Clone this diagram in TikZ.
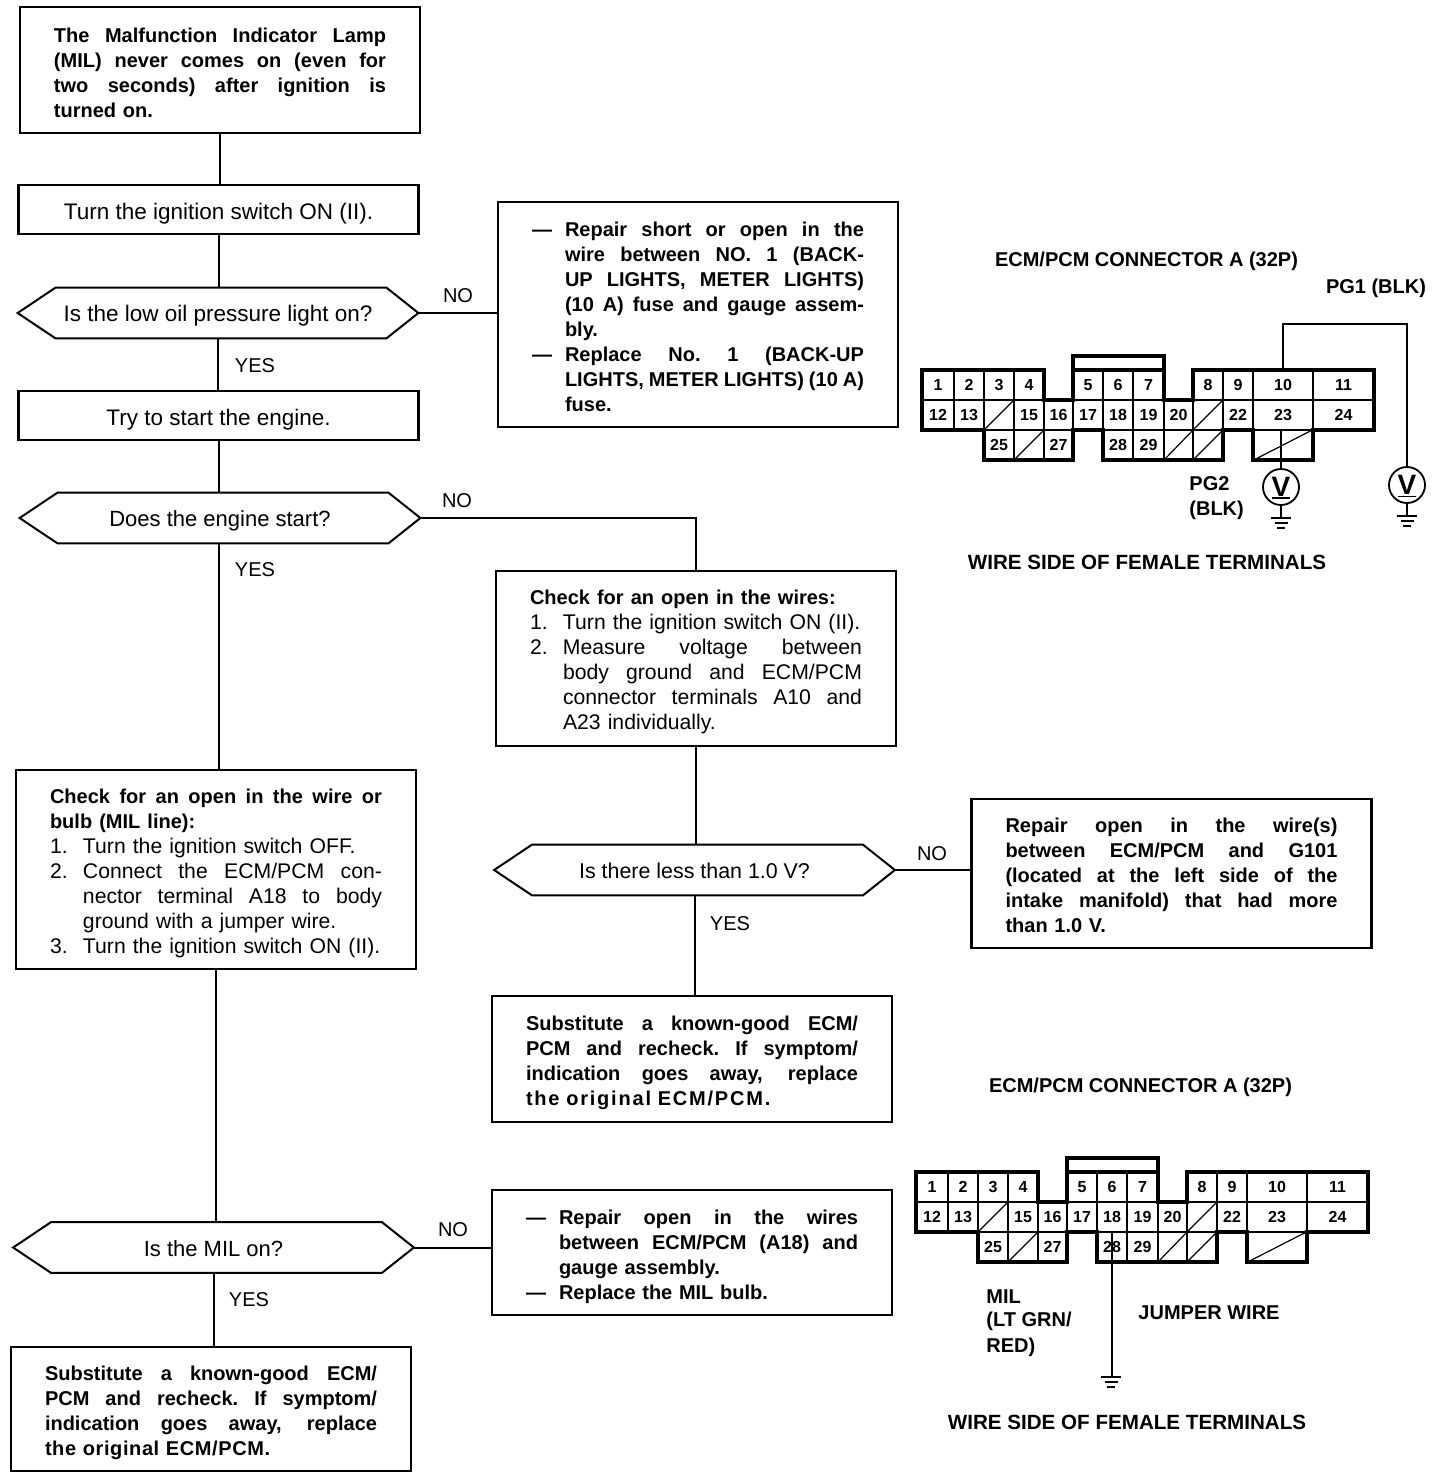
\documentclass[tikz,border=0pt]{standalone}
\usepackage{fontspec}
\setmainfont{Liberation Sans}
\usetikzlibrary{calc}
\newcommand\Sp{\spaceskip=.28em plus 1fil minus .1em\xspaceskip=\spaceskip}
\newcommand\Jl[1]{\hbox to 166pt{\Sp #1}}
\newcommand\Fl[1]{\hbox{#1}}
\newcommand\Ls[2]{\hbox{\addfontfeature{LetterSpace=#1}#2}}
\newcommand\Dj[2]{\hbox to 166pt{\Sp\hbox to 16.5pt{#1\hss}#2}}
\newcommand\Df[2]{\hbox{\hbox to 16.5pt{#1\hss}#2}}
\newcommand\Hj[1]{\hbox to 166pt{\Sp\hskip16.5pt #1}}
\newcommand\Hf[1]{\hbox{\hskip16.5pt #1}}
\newcommand\Hd[1]{\hbox to 166pt{\fontsize{10}{12.5}\selectfont\bfseries\Sp #1}}
\newcommand\Hn[1]{\hbox{\fontsize{10}{12.5}\selectfont\bfseries #1}}
\newcommand\Stk[2][2.4pt]{\vbox{\hsize=166pt\baselineskip=12.5pt\lineskiplimit=-10pt\kern#1 #2}}
\newcommand\decnode[5][11pt]{%
 \node[dec,font=\fontsize{#1}{12.5}\selectfont] (#2) at (#3,#4) {#5};
 \draw[decline] (#2.west) -- ($(#2.north west)+(38,0)$) -- ($(#2.north east)+(-32,0)$) -- (#2.east) -- ($(#2.south east)+(-32,0)$) -- ($(#2.south west)+(38,0)$) -- cycle;}
\newcommand\cellbox[6]{%
 \pgfmathsetmacro\cx{(#3+#4)/2}\pgfmathsetmacro\cy{(#5+#6)/2}%
 \pgfmathsetmacro\cw{(#4-#3)/2}\pgfmathsetmacro\ch{(#6-#5)/2}%
 \node[cellnode,minimum width=\cw pt,minimum height=\ch pt] (#1) at (\cx,\cy) {#2};}
\newcommand\slashbox[5]{\cellbox{#1}{}{#2}{#3}{#4}{#5}\draw[thinline] (#1.south west) -- (#1.north east);}
\newcommand\cnctr[1]{%
 \cellbox{#1-1}{1}{922}{954}{370}{400}\cellbox{#1-2}{2}{954}{984}{370}{400}%
 \cellbox{#1-3}{3}{984}{1014}{370}{400}\cellbox{#1-4}{4}{1014}{1044}{370}{400}%
 \cellbox{#1-5}{5}{1073}{1103}{370}{400}\cellbox{#1-6}{6}{1103}{1133}{370}{400}%
 \cellbox{#1-7}{7}{1133}{1164}{370}{400}\cellbox{#1-8}{8}{1193}{1223}{370}{400}%
 \cellbox{#1-9}{9}{1223}{1253}{370}{400}\cellbox{#1-10}{10}{1253}{1313}{370}{400}%
 \cellbox{#1-11}{11}{1313}{1374}{370}{400}%
 \cellbox{#1-12}{12}{922}{954}{400}{430}\cellbox{#1-13}{13}{954}{984}{400}{430}%
 \slashbox{#1-14}{984}{1014}{400}{430}%
 \cellbox{#1-15}{15}{1014}{1044}{400}{430}\cellbox{#1-16}{16}{1044}{1073}{400}{430}%
 \cellbox{#1-17}{17}{1073}{1103}{400}{430}\cellbox{#1-18}{18}{1103}{1133}{400}{430}%
 \cellbox{#1-19}{19}{1133}{1164}{400}{430}\cellbox{#1-20}{20}{1164}{1193}{400}{430}%
 \slashbox{#1-21}{1193}{1223}{400}{430}%
 \cellbox{#1-22}{22}{1223}{1253}{400}{430}\cellbox{#1-23}{23}{1253}{1313}{400}{430}%
 \cellbox{#1-24}{24}{1313}{1374}{400}{430}%
 \cellbox{#1-25}{25}{984}{1014}{430}{460}\slashbox{#1-26}{1014}{1044}{430}{460}%
 \cellbox{#1-27}{27}{1044}{1073}{430}{460}\cellbox{#1-28}{28}{1103}{1133}{430}{460}%
 \cellbox{#1-29}{29}{1133}{1164}{430}{460}\slashbox{#1-30}{1164}{1193}{430}{460}%
 \slashbox{#1-31}{1193}{1223}{430}{460}\slashbox{#1-32}{1253}{1313}{430}{460}%
 \draw[thickline] (922,370)--(1044,370)--(1044,400)--(1073,400)--(1073,370)--(1164,370)--(1164,400)--(1193,400)--(1193,370)--(1374,370)--(1374,430)--(1313,430)--(1313,460)--(1253,460)--(1253,430)--(1223,430)--(1223,460)--(1103,460)--(1103,430)--(1073,430)--(1073,460)--(984,460)--(984,430)--(922,430)--cycle;
 \draw[thickline] (1073,370)--(1073,356)--(1164,356)--(1164,370);
}
\newcommand\gnd[1]{%
 \draw[wire] ($(#1)+(-10,0)$) -- ($(#1)+(10,0)$);
 \draw[wire] ($(#1)+(-6.5,5)$) -- ($(#1)+(6.5,5)$);
 \draw[wire] ($(#1)+(-4,10)$) -- ($(#1)+(4,10)$);}
\tikzset{
 x=.5pt,y=-.5pt,
 base/.style={font=\fontsize{10}{12.5}\selectfont},
 bbase/.style={font=\fontsize{10}{12.5}\selectfont\bfseries},
 lbase/.style={font=\fontsize{10.6}{12.5}\selectfont},
 box/.style={draw,line width=1.1pt,rectangle,text width=166pt,inner xsep=17pt,inner ysep=0pt,minimum width=200pt},
 sbox/.style={font=\fontsize{11.25}{12.5}\selectfont,draw,line width=1.1pt,rectangle,inner sep=0pt,minimum width=200pt,text height=10pt,text depth=.5pt},
 dec/.style={inner sep=0pt,minimum width=200pt,minimum height=25pt,text height=9.5pt,text depth=1pt},
 decline/.style={line width=1pt},
 lab/.style={base,inner sep=0pt},
 blab/.style={bbase,inner sep=0pt},
 wire/.style={line width=1pt},
 link/.style={line width=1pt},
 cellnode/.style={draw,line width=.7pt,inner sep=0pt,font=\fontsize{8}{9}\selectfont\bfseries},
 thinline/.style={line width=.6pt},
 thickline/.style={line width=1.6pt,line join=miter},
 meter/.style={draw,circle,line width=.9pt,minimum size=18pt,inner sep=0pt,font=\fontsize{14}{14}\selectfont\bfseries},
}
\begin{document}
\begin{tikzpicture}
\useasboundingbox (0,0) rectangle (1440,1478);
\fill[white] (0,0) rectangle (1440,1478);
% left column
\node[box,bbase,minimum height=63pt] (b1) at (220,70) {\Stk{\Jl{The Malfunction Indicator Lamp}\Jl{(MIL) never comes on (even for}\Jl{two seconds) after ignition is}\Fl{turned on.}}};
\node[sbox,minimum height=24.5pt] (b2) at (218.5,209.5) {Turn the ignition switch ON (II).};
\decnode[11.25pt]{d1}{218}{313}{Is the low oil pressure light on?}
\node[sbox,minimum height=24.5pt] (b3) at (218.5,415.5) {Try to start the engine.};
\decnode{d2}{220}{518}{Does the engine start?}
\node[box,lbase,minimum height=99.5pt] (b9) at (216,869.5) {\Stk[4.4pt]{\Hd{Check for an open in the wire or}\Hn{bulb (MIL line):}\Df{1.}{Turn the ignition switch OFF.}\Dj{2.}{Connect the ECM/PCM con-}\Hj{nector terminal A18 to body}\Hf{ground with a jumper wire.}\Df{3.}{Turn the ignition switch ON (II).}}};
\decnode{d4}{213.5}{1247.5}{Is the MIL on?}
\node[box,bbase,minimum height=62pt] (b11) at (211,1409) {\Stk[3.4pt]{\Jl{Substitute a known-good ECM/}\Jl{PCM and recheck. If symptom/}\Jl{indication goes away, replace}\Ls{3}{the original ECM/PCM.}}};
% middle column
\node[box,bbase,minimum height=112.5pt] (b4) at (698,314.5) {\Stk{\Dj{—}{Repair short or open in the}\Hj{wire between NO. 1 (BACK-}\Hj{UP LIGHTS, METER LIGHTS)}\Hj{(10 A) fuse and gauge assem-}\Hf{bly.}\Dj{—}{Replace No. 1 (BACK-UP}\Hj{LIGHTS, METER LIGHTS) (10 A)}\Hf{fuse.}}};
\node[box,lbase,minimum height=87.5pt] (b5) at (696,658.5) {\Stk[3.4pt]{\Hn{Check for an open in the wires:}\Df{1.}{Turn the ignition switch ON (II).}\Dj{2.}{Measure voltage between}\Hj{body ground and ECM/PCM}\Hj{connector terminals A10 and}\Hf{A23 individually.}}};
\decnode[10.7pt]{d3}{694.5}{870}{Is there less than 1.0 V?}
\node[box,bbase,minimum height=74.5pt] (b7) at (1171.5,873.5) {\Stk[1.4pt]{\Jl{Repair open in the wire(s)}\Jl{between ECM/PCM and G101}\Jl{(located at the left side of the}\Jl{intake manifold) that had more}\Fl{than 1.0 V.}}};
\node[box,bbase,minimum height=63pt] (b8) at (692,1059) {\Stk[3.4pt]{\Jl{Substitute a known-good ECM/}\Jl{PCM and recheck. If symptom/}\Jl{indication goes away, replace}\Ls{9}{the original ECM/PCM.}}};
\node[box,bbase,minimum height=62.5pt] (b10) at (692,1252.5) {\Stk[4.4pt]{\Dj{—}{Repair open in the wires}\Hj{between ECM/PCM (A18) and}\Hf{gauge assembly.}\Df{—}{Replace the MIL bulb.}}};
% flow connectors
\draw[link] (b1.south) -- (b1.south |- b2.north);
\draw[link] (b2.south) -- (b2.south |- d1.north);
\draw[link] (d1.south) -- (d1.south |- b3.north);
\draw[link] (b3.south) -- (b3.south |- d2.north);
\draw[link] (d2.south -| b3.south) -- (b9.north -| b3.south);
\draw[link] (b9.south) -- (d4.north -| b9.south);
\draw[link] (d4.south) -- (d4.south |- b11.north);
\draw[link] (d1.east) -- (d1.east -| b4.west);
\draw[link] (d2.east) -| (b5.north);
\draw[link] (b5.south) -- (b5.south |- d3.north);
\draw[link] (d3.east) -- (d3.east -| b7.west);
\draw[link] (d3.south) -- (d3.south |- b8.north);
\draw[link] (d4.east) -- (d4.east -| b10.west);
% flow labels
\node[lab] (no1) at (458,296) {NO};
\node[lab] (yes1) at (255,366) {YES};
\node[lab] (no2) at (457,501) {NO};
\node[lab] (yes2) at (255,570) {YES};
\node[lab] (no3) at (932,854) {NO};
\node[lab] (yes3) at (730,924) {YES};
\node[lab] (no4) at (453,1230) {NO};
\node[lab] (yes4) at (249,1300) {YES};
% upper connector
\cnctr{a}
\node[blab] (t1) at (1146.5,261) {ECM/PCM CONNECTOR A (32P)};
\node[blab] (t2) at (1376,288) {PG1 (BLK)};
\node[blab,anchor=west] (t3) at (1189,484) {PG2};
\node[blab,anchor=west] (t4) at (1189,510) {(BLK)};
\node[blab,font=\fontsize{10.3}{12.5}\selectfont\bfseries] (t5) at (1147,562.5) {WIRE SIDE OF FEMALE TERMINALS};
\node[meter] (v1) at (1281,487) {V};
\node[meter] (v2) at (1407,485) {V};
\coordinate (g1) at (1281,518);
\coordinate (g2) at (1407,516);
\coordinate (vu1) at (1281,498);
\coordinate (vu2) at (1407,496);
\draw[wire] ($(vu1)+(-9,0)$) -- ($(vu1)+(9,0)$);
\draw[line width=.5pt] ($(vu2)+(-9,0)$) -- ($(vu2)+(9,0)$);
\draw[wire] (a-23.south -| v1.north) -- (v1.north);
\draw[wire] (a-10.north) -- (a-10.north |- 0,324) -| (v2.north);
\draw[wire] (v1.south) -- (g1 -| v1.south);
\draw[wire] (v2.south) -- (g2 -| v2.south);
\gnd{g1}
\gnd{g2}
% lower connector
\begin{scope}[shift={(-6,802)}]
\cnctr{c}
\end{scope}
\node[blab] (t6) at (1140.5,1087) {ECM/PCM CONNECTOR A (32P)};
\node[blab,anchor=west] (t7) at (986,1297) {MIL};
\node[blab,anchor=west] (t8) at (986,1321) {(LT GRN/};
\node[blab,anchor=west] (t9) at (986,1347) {RED)};
\node[blab] (t10) at (1209,1313) {JUMPER WIRE};
\node[blab,font=\fontsize{10.3}{12.5}\selectfont\bfseries] (t11) at (1127,1422.5) {WIRE SIDE OF FEMALE TERMINALS};
\coordinate (g3) at (1111,1377);
\draw[wire] (c-18.south) -- (c-18.south |- g3);
\gnd{g3}
\end{tikzpicture}
\end{document}
